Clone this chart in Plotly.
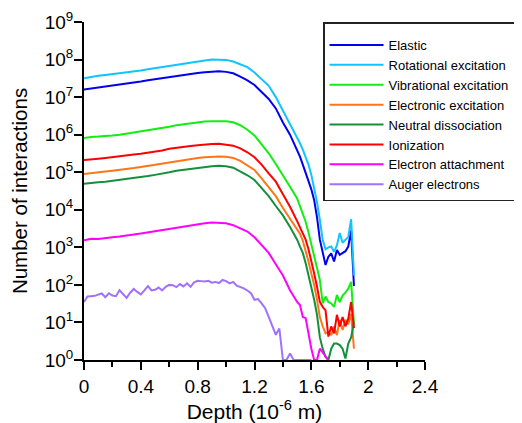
import plotly.graph_objects as go

# Depth grid (10^-6 m) for the main interaction curves
depth = [0.0, 0.05, 0.1, 0.15, 0.2, 0.25, 0.3, 0.35, 0.4, 0.45, 0.5, 0.55, 0.6, 0.65,
         0.7, 0.75, 0.8, 0.85, 0.9, 0.95, 1.0, 1.05, 1.1, 1.15, 1.2, 1.25, 1.3, 1.35,
         1.4, 1.45, 1.5, 1.52, 1.54, 1.56, 1.58, 1.6, 1.62, 1.64, 1.66, 1.68, 1.7,
         1.72, 1.74, 1.76, 1.78, 1.8, 1.82, 1.84, 1.86, 1.88, 1.9]

elastic = [1.6e7, 1.7e7, 1.8e7, 1.9e7, 2.0e7, 2.1e7, 2.2e7, 2.4e7, 2.6e7, 2.8e7, 3.0e7,
           3.2e7, 3.4e7, 3.6e7, 3.9e7, 4.2e7, 4.4e7, 4.6e7, 4.8e7, 4.9e7, 4.7e7, 4.3e7,
           3.5e7, 2.8e7, 2.1e7, 1.4e7, 8.9e6, 5.0e6, 2.1e6, 1.0e6, 4.0e5, 2.6e5, 1.6e5,
           1.0e5, 6.3e4, 3.5e4, 1.8e4, 6.3e3, 1.6e3, 790, 340, 560, 690, 420, 850, 630,
           690, 790, 1050, 2800, 93]

rotational = [3.2e7, 3.5e7, 3.7e7, 3.9e7, 4.1e7, 4.3e7, 4.6e7, 4.8e7, 5.1e7, 5.5e7, 5.9e7,
              6.3e7, 6.8e7, 7.4e7, 7.9e7, 8.5e7, 9.1e7, 9.5e7, 1.0e8, 1.0e8, 9.8e7, 8.9e7,
              7.6e7, 6.3e7, 4.5e7, 3.0e7, 2.0e7, 1.0e7, 4.4e6, 1.9e6, 8.3e5, 5.9e5, 4.0e5,
              2.6e5, 1.6e5, 8.5e4, 3.8e4, 1.6e4, 5.4e3, 1.6e3, 890, 1000, 1050, 760, 1120,
              2400, 1320, 1580, 1900, 5600, 178]

vibrational = [8.1e5, 8.7e5, 8.9e5, 9.1e5, 9.5e5, 1.0e6, 1.07e6, 1.12e6, 1.2e6, 1.29e6,
               1.38e6, 1.48e6, 1.62e6, 1.78e6, 1.9e6, 2.04e6, 2.14e6, 2.24e6, 2.29e6,
               2.34e6, 2.29e6, 2.14e6, 1.78e6, 1.35e6, 9.5e5, 5.5e5, 3.2e5, 1.66e5, 8.5e4,
               4.1e4, 2.0e4, 1.26e4, 7.9e3, 4.8e3, 2.5e3, 1.2e3, 600, 300, 135, 32, 49, 35,
               32, 26, 54, 35, 52, 63, 79, 120, 9.5]

electronic = [8.9e4, 9.5e4, 1.0e5, 1.05e5, 1.1e5, 1.15e5, 1.23e5, 1.29e5, 1.38e5, 1.48e5,
              1.58e5, 1.7e5, 1.86e5, 2.0e5, 2.14e5, 2.29e5, 2.4e5, 2.5e5, 2.57e5, 2.63e5,
              2.57e5, 2.4e5, 2.0e5, 1.55e5, 1.15e5, 6.9e4, 4.0e4, 2.3e4, 1.12e4, 5.6e3,
              2.8e3, 2.3e3, 1.5e3, 850, 420, 200, 100, 40, 14, 7.9, 5.1, 5.6, 4.6, 7.8, 4.6,
              11.7, 6.3, 11.7, 8.9, 17, 2.0]

neutral = [4.9e4, 5.25e4, 5.4e4, 5.6e4, 5.9e4, 6.2e4, 6.6e4, 6.9e4, 7.4e4, 7.9e4, 8.5e4,
           9.1e4, 1.0e5, 1.1e5, 1.17e5, 1.26e5, 1.32e5, 1.38e5, 1.45e5, 1.48e5, 1.45e5,
           1.32e5, 1.07e5, 8.3e4, 6.2e4, 3.7e4, 2.3e4, 1.26e4, 7.1e3, 3.5e3, 1.6e3, 1.05e3,
           710, 380, 190, 89, 40, 16, 4.0, 2.0, 1.2, 1.0, 2.0, 2.75, 2.75, 2.5, 2.0, 1.1,
           2.75, 4.0, 10]

ionization = [2.1e5, 2.24e5, 2.3e5, 2.4e5, 2.5e5, 2.6e5, 2.75e5, 2.95e5, 3.1e5, 3.3e5,
              3.55e5, 3.8e5, 4.2e5, 4.5e5, 4.8e5, 5.0e5, 5.25e5, 5.5e5, 5.6e5, 5.75e5,
              5.5e5, 5.1e5, 4.3e5, 3.4e5, 2.5e5, 1.6e5, 9.3e4, 5.6e4, 2.6e4, 1.2e4, 5.0e3,
              3.5e3, 2.4e3, 1.6e3, 890, 450, 200, 89, 35, 26, 21, 4.2, 7.8, 5.1, 16, 7.8, 14,
              7.9, 12.6, 35, 7.1]

attachment = [1550, 1700, 1660, 1780, 1860, 1950, 2040, 2190, 2340, 2510, 2690, 2880, 3160,
              3240, 3550, 3890, 4170, 4370, 4570, 4570, 4370, 3890, 3240, 2630, 1860, 1170,
              710, 355, 178, 72, 35, 29, 14, 13, 5.0, 2.0, 1.0, 1.0, 2.0, 1.6, 1.26, 1.0,
              None, None, None, None, None, None, None, None, None]

# Auger electrons are sampled on a finer grid
depth_auger = [0.0, 0.025, 0.05, 0.075, 0.1, 0.125, 0.15, 0.175, 0.2, 0.225, 0.25, 0.275,
               0.3, 0.325, 0.35, 0.375, 0.4, 0.425, 0.45, 0.475, 0.5, 0.525, 0.55, 0.575,
               0.6, 0.625, 0.65, 0.675, 0.7, 0.725, 0.75, 0.775, 0.8, 0.825, 0.85, 0.875,
               0.9, 0.925, 0.95, 0.975, 1.0, 1.025, 1.05, 1.075, 1.1, 1.125, 1.15, 1.175,
               1.2, 1.225, 1.25, 1.275, 1.3, 1.325, 1.35, 1.375, 1.4, 1.425, 1.45, 1.475,
               1.5, 1.525, 1.55, 1.575, 1.6]
auger = [35, 49, 50, 51, 55, 59, 47, 60, 52, 50, 72, 58, 45, 62, 78, 65, 56, 71, 93, 71,
         74, 85, 71, 89, 100, 98, 87, 105, 91, 110, 89, 117, 129, 126, 123, 129, 115, 120,
         112, 135, 126, 110, 120, 95, 89, 81, 71, 60, 40, 42, 32, 24, 14, 7.8, 4.7, 6.9,
         1, 1, 1.5, 1, 1, 1, 1, 1, 1]

series_names = ["Elastic", "Rotational excitation", "Vibrational excitation",
                "Electronic excitation", "Neutral dissociation", "Ionization",
                "Electron attachment", "Auger electrons"]
series_values = [elastic, rotational, vibrational, electronic, neutral, ionization,
                 attachment, auger]
series_depths = [depth, depth, depth, depth, depth, depth, depth, depth_auger]
colors = ["#0000EE", "#10C4FF", "#11EE11", "#FF7518", "#15903A", "#FF0000", "#FF00FF",
          "#A070FF"]

x_ticks = [0, 0.4, 0.8, 1.2, 1.6, 2, 2.4]
y_exponents = [0, 1, 2, 3, 4, 5, 6, 7, 8, 9]
y_ticks = [10.0 ** e for e in y_exponents]
y_ticktext = ["10<sup>%d</sup>" % e for e in y_exponents]
y_minor_ticks = [m * 10.0 ** e for e in y_exponents[:-1] for m in range(2, 10)]

FONT = "Arial, Liberation Sans, sans-serif"

fig = go.Figure()
for name, xs, ys, c in zip(series_names, series_depths, series_values, colors):
    fig.add_trace(go.Scatter(x=xs, y=ys, mode="lines", name=name,
                             line=dict(color=c, width=2), connectgaps=False))

# The page body adds an 8 px margin, so the figure is sized 8 px smaller.
fig.update_layout(
    width=514, height=415,
    margin=dict(l=76, r=97, t=14, b=63, autoexpand=False),
    paper_bgcolor="white", plot_bgcolor="white",
    font=dict(family=FONT, color="black", size=16),
    showlegend=True,
    legend=dict(x=0.701, y=1.0, xanchor="left", yanchor="top",
                bgcolor="white", bordercolor="#222222", borderwidth=1.5,
                font=dict(family=FONT, size=13, color="black"),
                title=dict(text=" ", font=dict(size=5)),
                itemwidth=54, tracegroupgap=0),
    xaxis=dict(range=[0, 2.4], tickvals=x_ticks, showgrid=False, zeroline=False,
               showline=True, linecolor="black", linewidth=2, automargin=False,
               ticks="outside", ticklen=8, tickwidth=2, tickcolor="black",
               minor=dict(dtick=0.2, tick0=0, ticks="outside", ticklen=5, tickwidth=2,
                          tickcolor="black", showgrid=False),
               tickfont=dict(size=19), layer="below traces",
               title=dict(text="Depth (10<sup>-6</sup> m)", font=dict(size=21),
                          standoff=3)),
    yaxis=dict(type="log", range=[0, 9], tickvals=y_ticks, ticktext=y_ticktext,
               showgrid=False, zeroline=False, showline=True, linecolor="black",
               linewidth=2, automargin=False, ticks="outside", ticklen=8, tickwidth=2,
               tickcolor="black", tickfont=dict(size=19), layer="below traces",
               ticklabelstandoff=-3,
               title=dict(text="Number of interactions", font=dict(size=20.5),
                          standoff=12)),
    yaxis2=dict(type="log", range=[0, 9], overlaying="y", anchor="x", side="left",
                tickvals=y_minor_ticks, showticklabels=False, showgrid=False,
                zeroline=False, showline=False, automargin=False,
                ticks="outside", ticklen=5, tickwidth=1, tickcolor="black"),
)

fig.write_html("out.html")
